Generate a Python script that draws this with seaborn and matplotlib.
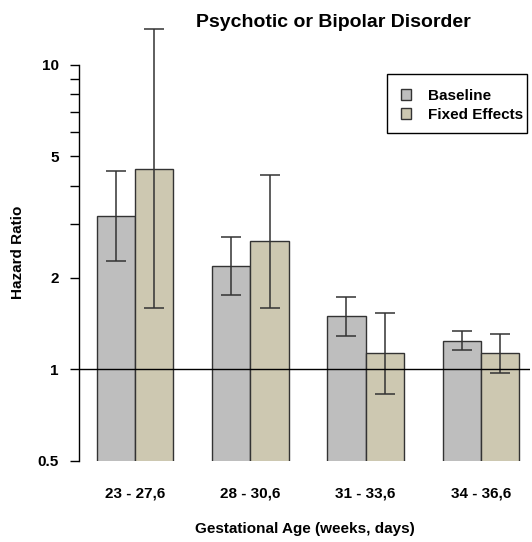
import matplotlib
matplotlib.use("Agg")
import matplotlib.pyplot as plt
import matplotlib.ticker as mticker
from matplotlib.patches import Patch, Rectangle
import seaborn as sns
import pandas as pd
import numpy as np

# ---- data ----
categories = ["23 - 27,6", "28 - 30,6", "31 - 33,6", "34 - 36,6"]
series = ["Baseline", "Fixed Effects"]
baseline_hr = [3.18, 2.18, 1.50, 1.24]
baseline_lo = [2.26, 1.76, 1.29, 1.16]
baseline_hi = [4.47, 2.71, 1.73, 1.34]
fixed_hr = [4.55, 2.64, 1.135, 1.135]
fixed_lo = [1.59, 1.59, 0.83, 0.975]
fixed_hi = [13.1, 4.35, 1.53, 1.31]
major_ticks = [0.5, 1, 2, 5, 10]
major_labels = ["0.5", "1", "2", "5", "10"]
minor_ticks = [3, 4, 6, 7, 8, 9]
colors = {"Baseline": "#BEBEBE", "Fixed Effects": "#CDC8B1"}

df = pd.DataFrame({
    "group": categories * 2,
    "series": [series[0]] * 4 + [series[1]] * 4,
    "hr": baseline_hr + fixed_hr,
    "lo": baseline_lo + fixed_lo,
    "hi": baseline_hi + fixed_hi,
})

sns.set_theme(style="white")
plt.rcParams["font.family"] = ["Liberation Sans", "DejaVu Sans"]
plt.rcParams["text.color"] = "black"
plt.rcParams["axes.labelcolor"] = "black"
plt.rcParams["xtick.color"] = "black"
plt.rcParams["ytick.color"] = "black"

fig = plt.figure(figsize=(5.32, 5.42), dpi=100)
ax = fig.add_axes([79 / 532, 81 / 542, 451 / 532, 436 / 542])

sns.barplot(data=df, x="group", y="hr", hue="series", order=categories,
            hue_order=series, palette=colors, saturation=1, width=2 / 3,
            errorbar=None, edgecolor="#333333", linewidth=1, ax=ax,
            legend=False)

# error bars at the bar centers
for s, cont in zip(series, ax.containers):
    sub = df[df["series"] == s].set_index("group").loc[categories]
    xs = [b.get_x() + b.get_width() / 2 for b in cont]
    yerr = np.array([sub["hr"] - sub["lo"], sub["hi"] - sub["hr"]])
    ax.errorbar(xs, sub["hr"], yerr=yerr, fmt="none", ecolor="#333333",
                elinewidth=1.1, capsize=7.2, capthick=1.1, zorder=5)

ax.axhline(1, color="black", linewidth=1, zorder=6)

ax.set_yscale("log")
ax.set_ylim(0.5, 13.5)
ax.set_xlim(-0.486, 3.425)
ax.yaxis.set_major_locator(mticker.FixedLocator(major_ticks))
ax.yaxis.set_major_formatter(mticker.FixedFormatter(major_labels))
ax.yaxis.set_minor_locator(mticker.FixedLocator(minor_ticks))
ax.yaxis.set_minor_formatter(mticker.NullFormatter())
ax.tick_params(axis="y", which="both", length=6.5, width=1, color="black",
               left=True, pad=8, labelsize=11)
ax.tick_params(axis="x", length=0, pad=18.5, labelsize=11)
for lab in ax.get_xticklabels() + ax.get_yticklabels():
    lab.set_fontweight("bold")

for sp in ["top", "right", "bottom"]:
    ax.spines[sp].set_visible(False)
ax.spines["left"].set_color("black")
ax.spines["left"].set_linewidth(1)
ax.spines["left"].set_bounds(0.5, 10)

ax.set_xlabel("Gestational Age (weeks, days)", fontsize=11, fontweight="bold")
ax.set_ylabel("Hazard Ratio", fontsize=11, fontweight="bold")
ax.xaxis.set_label_coords(0.5, -0.140)
ax.yaxis.set_label_coords(-0.12, 0.479)

fig.text(333 / 532, (542 - 26.7) / 542, "Psychotic or Bipolar Disorder",
         ha="center", va="baseline", fontsize=14, fontweight="bold")

# legend: entries plus a plain box frame
handles = [Patch(facecolor=colors[s], edgecolor="#333333", linewidth=1) for s in series]
leg = ax.legend(handles, series, loc="upper left",
                bbox_to_anchor=(401 / 532, (542 - 89) / 542),
                bbox_transform=fig.transFigure, borderaxespad=0, borderpad=0,
                frameon=False, prop={"size": 11, "weight": "bold"},
                handlelength=0.68, handleheight=0.68, handletextpad=1.1,
                labelspacing=0.33)
fig.patches.append(Rectangle((387 / 532, (542 - 133) / 542), 140 / 532, 59 / 542,
                             transform=fig.transFigure, fill=False,
                             edgecolor="black", linewidth=1, zorder=10))

fig.savefig("out.png", dpi=100)
